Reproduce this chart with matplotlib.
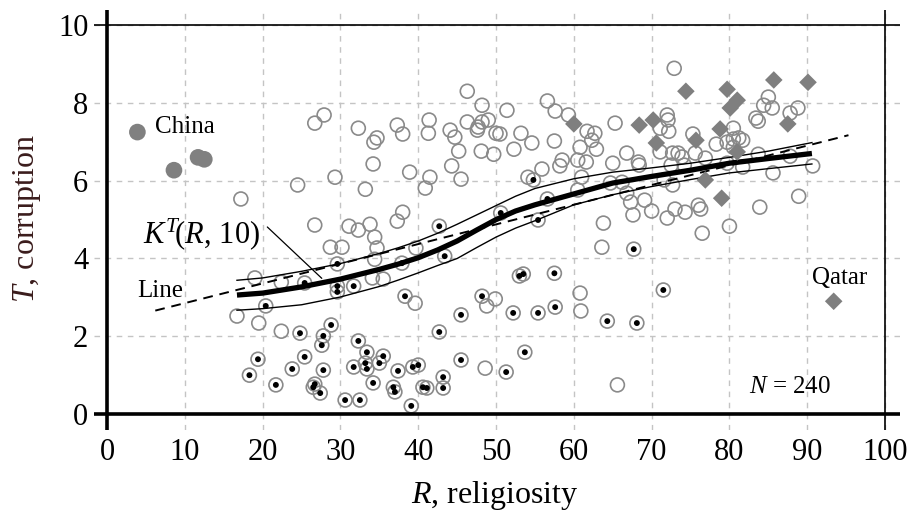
import matplotlib
matplotlib.use('Agg')
import matplotlib.pyplot as plt

plt.rcParams['font.family'] = ['Liberation Serif', 'DejaVu Serif']
plt.rcParams['mathtext.fontset'] = 'custom'
plt.rcParams['mathtext.rm'] = 'Liberation Serif'
plt.rcParams['mathtext.it'] = 'Liberation Serif:italic'

# ---------------- data ----------------
open_R = [17.2, 24.5, 26.7, 27.9, 29.3, 32.3, 33.2, 34.7, 34.3, 34.2, 37.3, 38.0, 38.9, 41.4, 41.3,
          41.5, 40.9, 44.1, 44.7, 44.3, 45.5, 38.0, 37.3, 26.7, 31.1, 32.3, 33.8, 34.4, 28.7, 30.2,
          34.7, 39.7, 46.3, 48.2, 51.4, 56.6, 57.6, 46.3, 47.7, 48.2, 49.0, 47.6, 50.0, 50.5, 53.2,
          54.6, 57.5, 45.2, 48.1, 49.7, 52.3, 55.9, 54.1, 58.5, 58.2, 72.9, 59.3, 65.3, 72.0, 72.1,
          72.2, 61.7, 62.7, 62.3, 60.8, 62.9, 61.6, 60.5, 66.8, 65.0, 68.3, 68.4, 71.1, 72.7,
          73.4, 73.9, 72.5, 74.2, 75.6, 76.9, 78.3, 79.7, 75.3, 71.1, 61.0, 64.7, 66.2, 71.6, 72.7,
          67.3, 69.1, 67.6, 70.0, 72.0, 73.0, 74.3, 76.0, 76.3, 63.8, 80.0, 76.5, 63.6, 66.8, 60.5,
          80.5, 80.5, 81.2, 81.7, 80.5, 81.7, 79.7, 83.4, 83.7, 85.0, 84.4, 85.5, 87.8, 88.8, 83.7,
          85.6, 90.7, 88.9, 83.9, 87.8, 19.0, 22.4, 34.4, 34.1, 35.5, 39.6, 16.7, 19.5, 22.4, 49.9,
          48.8, 48.6, 60.8, 60.9, 65.6]
open_T = [5.53, 5.89, 7.48, 7.69, 6.09, 7.35, 5.78, 7.10, 6.99, 6.43, 7.43, 7.20, 6.22, 7.56, 7.22,
          6.09, 5.81, 7.30, 7.12, 6.38, 6.04, 5.19, 4.96, 4.86, 4.83, 4.73, 4.88, 4.55, 4.29, 4.29,
          4.27, 4.27, 8.30, 7.94, 7.81, 8.05, 7.79, 7.51, 7.38, 7.51, 7.56, 7.30, 7.22, 7.20, 7.22,
          6.97, 7.02, 6.76, 6.76, 6.68, 6.81, 6.30, 6.09, 6.53, 6.38, 8.89, 7.69, 7.48, 7.69, 7.56,
          7.27, 7.27, 7.22, 7.04, 6.86, 6.81, 6.48, 6.53, 6.71, 6.45, 6.48, 6.40, 6.74, 6.71,
          6.71, 6.61, 6.40, 6.40, 6.71, 6.58, 6.94, 6.99, 7.20, 7.35, 6.09, 5.94, 5.96, 6.02, 5.89,
          5.45, 5.50, 5.12, 5.22, 5.04, 5.27, 5.19, 5.37, 5.27, 4.91, 4.83, 4.65, 4.29, 5.68, 5.76,
          7.35, 7.07, 7.10, 7.04, 6.86, 6.35, 6.45, 7.61, 7.53, 8.15, 7.94, 7.87, 7.74, 7.87, 6.68,
          6.20, 6.38, 5.60, 5.32, 6.63, 3.50, 3.39, 3.98, 3.50, 3.47, 2.85, 2.52, 2.34, 2.13, 2.96,
          2.78, 1.18, 3.11, 2.65, 0.75]

dot_R = [29.6, 25.4, 29.6, 29.6, 31.7, 20.4, 28.8, 27.8, 27.6, 24.8, 32.3, 19.4, 18.3, 25.4, 23.8,
         27.8, 21.7, 26.7, 26.5, 27.4, 30.6, 32.5, 31.7, 33.4, 33.2, 33.4, 35.0, 35.5, 34.2, 37.4,
         36.8, 37.0, 39.1, 39.3, 40.0, 40.6, 41.1, 43.2, 43.2, 42.7, 38.3, 43.4, 37.9,
         53.0, 53.5, 57.5, 48.2, 45.5, 52.2, 55.4, 57.6, 45.5, 53.7, 51.3,
         54.8, 56.6, 50.6, 55.4, 67.7, 42.7, 64.3, 68.1, 71.5]
dot_T = [3.86, 3.37, 3.29, 3.14, 3.29, 2.78, 2.29, 2.01, 1.77, 2.08, 1.88, 1.41, 1.00, 1.47, 1.16,
         1.13, 0.75, 0.77, 0.69, 0.54, 0.36, 0.36, 1.21, 1.59, 1.31, 1.16, 1.31, 1.49, 0.80, 1.11,
         0.69, 0.57, 0.21, 1.21, 1.26, 0.69, 0.67, 0.95, 0.67, 2.11, 3.03, 4.06, 3.88,
         3.55, 3.60, 3.62, 3.03, 2.55, 2.60, 2.60, 2.75, 1.39, 1.59, 1.08,
         6.02, 5.53, 5.17, 4.99, 4.24, 4.83, 2.39, 2.34, 3.19]

diamond_R = [74.4, 79.7, 81.0, 80.1, 85.7, 90.1, 60.0, 68.4, 70.2, 70.6, 75.7, 78.8, 87.5, 81.0,
             76.9, 79.0, 93.4]
diamond_T = [8.30, 8.35, 8.07, 7.87, 8.59, 8.53, 7.46, 7.43, 7.56, 6.97, 7.04, 7.33, 7.46, 6.74,
             6.02, 5.55, 2.90]

china_R = [3.9, 8.6, 11.7, 12.5]
china_T = [7.25, 6.27, 6.60, 6.55]

curve_R = [16.7, 20, 25, 30, 35, 37.5, 40, 42.5, 45, 47.5, 50, 52.5, 55, 60, 65, 70, 75, 80, 85, 90.6]
kt_T    = [3.06, 3.11, 3.27, 3.47, 3.72, 3.86, 4.02, 4.22, 4.45, 4.73, 5.00, 5.22, 5.38, 5.66,
           5.94, 6.11, 6.27, 6.45, 6.57, 6.70]
upper_T = [3.44, 3.50, 3.67, 3.87, 4.13, 4.28, 4.45, 4.65, 4.88, 5.12, 5.36, 5.60, 5.80, 6.05,
           6.22, 6.33, 6.45, 6.60, 6.76, 6.98]
lower_T = [2.67, 2.71, 2.81, 3.01, 3.28, 3.45, 3.63, 3.82, 4.00, 4.28, 4.55, 4.78, 4.97, 5.38,
           5.64, 5.85, 6.03, 6.20, 6.31, 6.43]

line_R = [6.2, 95.3]
line_T = [2.66, 7.17]

x_ticks = [0, 10, 20, 30, 40, 50, 60, 70, 80, 90, 100]
y_ticks = [0, 2, 4, 6, 8, 10]

# ---------------- figure ----------------
fig = plt.figure(figsize=(9.18, 5.11), dpi=100)
ax = fig.add_axes([0.1022, 0.1585, 0.878, 0.822])
ax.set_xlim(-1.7, 101.9)
ax.set_ylim(-0.41, 10.39)
for s in ax.spines.values():
    s.set_visible(False)
ax.set_xticks(x_ticks)
ax.set_yticks(y_ticks)
ax.tick_params(axis='both', length=0, labelsize=22)
ax.tick_params(axis='x', pad=6)
ax.tick_params(axis='y', pad=4)
ax.grid(True, color='#c4c4c4', linestyle=(0, (4, 4)), linewidth=1.0, zorder=0)
ax.set_axisbelow(True)

ax.axhline(0, color='black', lw=2.6, zorder=6)
ax.axvline(0, color='black', lw=2.6, zorder=6)
ax.axhline(10, color='black', lw=1.2, zorder=6)
ax.axvline(100, color='black', lw=1.2, zorder=6)

gray = '#8a8a8a'
ax.scatter(open_R, open_T, s=100, facecolors='none', edgecolors=gray, linewidths=1.2, zorder=2)
ax.scatter(dot_R, dot_T, s=100, facecolors='none', edgecolors=gray, linewidths=1.2, zorder=2)
ax.scatter(dot_R, dot_T, s=18, c='black', edgecolors='none', zorder=3)
ax.scatter(china_R, china_T, s=144, c='#808080', edgecolors='none', zorder=3)

ax.plot(line_R, line_T, color='black', lw=1.4, linestyle=(0, (5, 3.5)), zorder=4)
ax.plot(curve_R, upper_T, color='black', lw=1.0, zorder=4)
ax.plot(curve_R, lower_T, color='black', lw=1.0, zorder=4)
ax.plot(curve_R, kt_T, color='black', lw=3.8, solid_capstyle='butt', zorder=4)

ax.scatter(diamond_R, diamond_T, s=80, marker='D', c='#7f7f7f', edgecolors='none', zorder=5)

# annotations
ax.text(6.2, 7.38, 'China', fontsize=18, ha='left', va='center', zorder=7)
ax.text(94.2, 3.5, 'Qatar', fontsize=18, ha='center', va='center', zorder=7)
ax.text(87.8, 0.69, r'$N$ = 240', fontsize=18, ha='center', va='center', zorder=7)
ax.text(6.8, 3.16, 'Line', fontsize=18, ha='center', va='center', zorder=7)
ax.text(12.1, 4.63, r'$K^{T}\!(R$, 10)', fontsize=22, ha='center', va='center', zorder=7)
ax.annotate('', xy=(27.6, 3.49), xytext=(20.6, 4.81),
            arrowprops=dict(arrowstyle='-', lw=0.9, color='black', shrinkA=0, shrinkB=0), zorder=7)

fig.text(495 / 918, 1 - 496 / 511, r'$R$, religiosity', fontsize=23, ha='center', va='center')
fig.text(27 / 918, 1 - 218.5 / 511, r'$T$, corruption', fontsize=23, ha='center', va='center',
         rotation=90, color='#3a1c1c')

fig.savefig('out.png', dpi=100)
